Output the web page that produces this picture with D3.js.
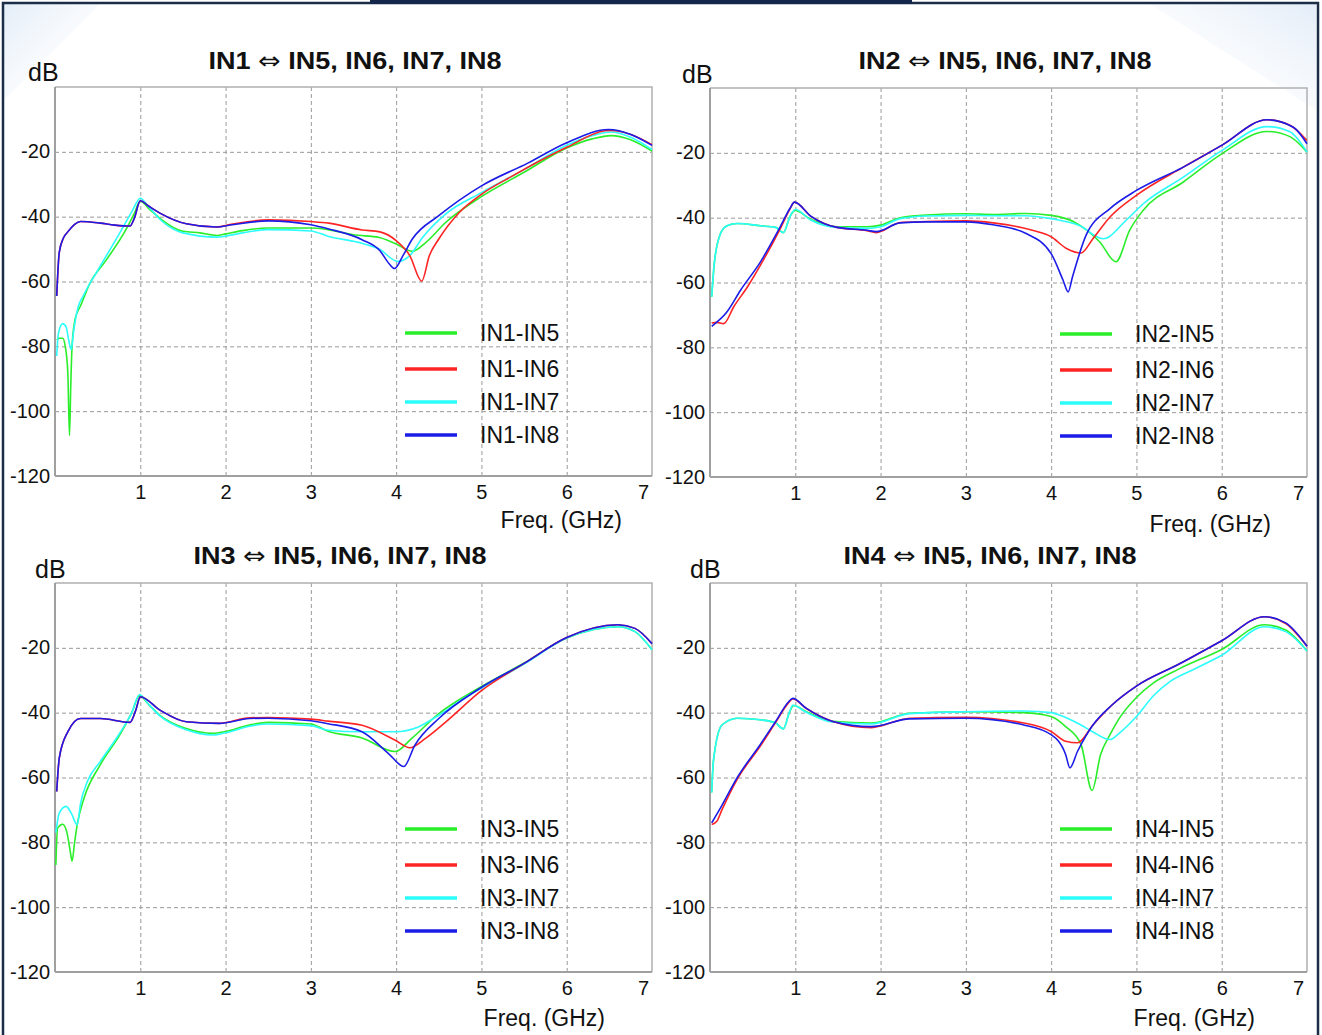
<!DOCTYPE html>
<html>
<head>
<meta charset="utf-8">
<script src="https://cdn.jsdelivr.net/npm/d3@7/dist/d3.min.js"></script>
<style>
  body { margin: 0; background: #fff; }
  svg text { font-family: 'Liberation Sans', Arial, sans-serif; fill: #111; }
</style>
</head>
<body>
<svg id="chart" width="1322" height="1035"></svg>
<script>
'use strict';

// ---- data: [GHz, dB] ----
const xTicks = [1, 2, 3, 4, 5, 6, 7];
const yTicks = [-20, -40, -60, -80, -100, -120];
const targets = ['IN5', 'IN6', 'IN7', 'IN8'];
const colors = ['#2aee2a', '#ff2424', '#2cfcfc', '#1c1ce8'];

const in1_5 = [[0.02,-78],[0.05,-77.5],[0.09,-77.5],[0.12,-80],[0.15,-88],[0.17,-107.5],[0.185,-92],[0.2,-80],[0.237,-71.5],[0.3,-67.5],[0.41,-60.5],[0.6,-53.4],[0.83,-44.1],[0.93,-39],[1.0,-35.2],[1.1,-37.5],[1.23,-40.5],[1.5,-44.5],[1.7,-45],[1.9,-45.8],[2.0,-45.3],[2.2,-44.3],[2.5,-43.5],[3.0,-43.5],[3.2,-44],[3.5,-45.6],[3.8,-46.4],[4.0,-48.4],[4.19,-50.7],[4.35,-47.9],[4.58,-41.8],[5.0,-33.8],[5.5,-26.3],[6.0,-18.8],[6.3,-16],[6.52,-15],[6.75,-16.3],[7.0,-19.8]];
const in1_6 = [[0.02,-64.5],[0.05,-51],[0.1,-46.5],[0.14,-45],[0.3,-41.5],[0.53,-42],[0.7,-42.6],[0.88,-42.9],[0.93,-40.5],[1.0,-35.1],[1.1,-36.8],[1.23,-38.9],[1.54,-42.2],[1.89,-43.2],[2.08,-42.3],[2.5,-41],[3.0,-41.5],[3.21,-42],[3.6,-44.1],[3.81,-44.7],[4.0,-47.4],[4.16,-52],[4.3,-59.9],[4.39,-52],[4.5,-46.9],[4.74,-38.7],[5.0,-33.1],[5.36,-27.5],[6.0,-18.6],[6.45,-13.5],[6.52,-13.4],[6.76,-14.7],[7.0,-17.8]];
const in1_7 = [[0.02,-83],[0.04,-76],[0.09,-73],[0.13,-74],[0.16,-78],[0.19,-81],[0.22,-75],[0.27,-68],[0.33,-64.5],[0.53,-55.3],[0.76,-45],[0.9,-38.5],[1.0,-34.3],[1.1,-37],[1.23,-40.8],[1.5,-45],[1.9,-46.3],[2.0,-46],[2.2,-45],[2.5,-44],[3.0,-44.4],[3.21,-46.1],[3.6,-48.2],[3.8,-50],[4.02,-53.8],[4.16,-52],[4.31,-46.4],[4.58,-39.2],[5.0,-32.6],[5.5,-25.5],[6.0,-18],[6.3,-15],[6.52,-13.9],[6.75,-15.5],[7.0,-19.3]];
const in1_8 = [[0.02,-64.5],[0.05,-51],[0.1,-46.5],[0.14,-45],[0.3,-41.5],[0.53,-42],[0.7,-42.6],[0.88,-42.9],[0.93,-40.5],[1.0,-35.1],[1.1,-36.8],[1.23,-38.9],[1.54,-42.2],[1.89,-43.2],[2.08,-42.5],[2.5,-41.3],[3.0,-42.5],[3.21,-43.8],[3.6,-47.1],[3.81,-50.5],[3.92,-54.6],[3.98,-56],[4.08,-52],[4.19,-46.9],[4.5,-39.7],[5.0,-30.5],[5.55,-23.4],[6.0,-17.2],[6.49,-13.1],[6.76,-14.7],[7.0,-18]];

const in2_5 = [[0.02,-64.4],[0.05,-54.2],[0.12,-45.1],[0.2,-42.5],[0.32,-41.8],[0.59,-42.5],[0.77,-43],[0.86,-44.6],[0.94,-39.5],[1.0,-37.8],[1.18,-40.5],[1.49,-42.8],[1.84,-42.8],[2.0,-42.3],[2.23,-40],[2.54,-39.2],[3.0,-38.8],[3.32,-39],[3.7,-38.7],[4.0,-39.3],[4.29,-41.6],[4.57,-47.5],[4.76,-53.6],[4.92,-43.9],[5.08,-37.7],[5.55,-29],[6.0,-20.3],[6.53,-13.4],[6.8,-15],[7.0,-19.8]];
const in2_6 = [[0.02,-72.5],[0.08,-72.3],[0.16,-72.7],[0.28,-67.4],[0.44,-61.3],[0.59,-54.7],[0.82,-43.6],[0.94,-37.2],[0.99,-35.2],[1.18,-39.5],[1.49,-43],[1.84,-44],[1.95,-44.6],[2.23,-41.5],[2.54,-41.2],[3.0,-41],[3.32,-41.6],[3.78,-43.9],[4.0,-45.9],[4.18,-49.5],[4.35,-50.9],[4.49,-46.5],[4.69,-39.8],[5.0,-33.1],[5.55,-24.4],[6.0,-17.7],[6.53,-9.8],[6.8,-11.5],[7.0,-16.2]];
const in2_7 = [[0.02,-64.4],[0.05,-54.2],[0.12,-45.1],[0.2,-42.5],[0.32,-41.8],[0.59,-42.5],[0.77,-43],[0.86,-44.6],[0.94,-39.5],[1.0,-37.5],[1.18,-40.7],[1.49,-43],[1.84,-43.3],[2.0,-42.8],[2.23,-40.3],[2.54,-39.5],[3.0,-39.3],[3.32,-39.4],[3.7,-39.4],[4.0,-40.3],[4.33,-42.4],[4.61,-46.5],[4.88,-40.8],[5.08,-35.7],[5.55,-27.5],[6.0,-19.3],[6.53,-11.9],[6.8,-13.5],[7.0,-19.8]];
const in2_8 = [[0.02,-73.5],[0.2,-69],[0.36,-62.3],[0.59,-53.7],[0.82,-43],[0.94,-37],[0.99,-35.2],[1.18,-39.5],[1.49,-43],[1.84,-43.9],[1.95,-44.3],[2.23,-41.6],[2.54,-41.3],[3.0,-41.3],[3.32,-42.2],[3.7,-44.8],[4.0,-51.1],[4.14,-59.3],[4.2,-62.9],[4.25,-58.3],[4.41,-45.4],[4.69,-37.2],[5.0,-31.6],[5.55,-24.4],[6.0,-17.7],[6.53,-9.8],[6.84,-12.1],[7.0,-17.2]];

const in3_5 = [[0.01,-87],[0.03,-75.6],[0.09,-74.4],[0.14,-77],[0.18,-83],[0.2,-85.8],[0.23,-80],[0.26,-74.6],[0.34,-66.4],[0.53,-56.1],[0.77,-46.4],[0.9,-40],[0.99,-34.8],[1.1,-37.5],[1.23,-40.8],[1.54,-44.9],[1.85,-46.4],[2.0,-45.8],[2.28,-43.8],[2.5,-43],[3.0,-43.5],[3.2,-45.7],[3.6,-47.8],[3.99,-52],[4.18,-48],[4.5,-40.3],[4.93,-33],[5.5,-24.7],[6.0,-17],[6.6,-13.5],[6.8,-15],[7.0,-20.6]];
const in3_6 = [[0.02,-64.3],[0.05,-54],[0.15,-45.9],[0.3,-41.8],[0.53,-41.8],[0.88,-43],[0.95,-39],[1.0,-35.1],[1.23,-39.2],[1.54,-42.8],[1.93,-43.3],[2.28,-41.6],[2.5,-41.5],[3.0,-42],[3.2,-42.6],[3.6,-43.9],[3.99,-48.5],[4.16,-50.8],[4.34,-48],[4.58,-42.9],[5.0,-33.2],[5.5,-24.8],[6.0,-16.8],[6.6,-12.9],[6.8,-14],[7.0,-18.7]];
const in3_7 = [[0.01,-77],[0.05,-71],[0.13,-68.9],[0.19,-71],[0.26,-74.6],[0.3,-68],[0.38,-61.2],[0.53,-55.1],[0.77,-45.9],[0.9,-40],[0.99,-34.4],[1.1,-37.5],[1.23,-41],[1.54,-45.3],[1.85,-46.9],[2.0,-46.2],[2.28,-44.2],[2.5,-43.5],[3.0,-44],[3.2,-45.4],[3.6,-45.9],[3.99,-45.9],[4.26,-44.4],[4.5,-40.8],[4.85,-34.7],[5.0,-32.5],[5.5,-25],[6.0,-17],[6.6,-13.5],[6.8,-15],[7.0,-20.6]];
const in3_8 = [[0.02,-64.3],[0.05,-54],[0.15,-45.9],[0.3,-41.8],[0.53,-41.8],[0.88,-43],[0.95,-39],[1.0,-35.1],[1.23,-39.2],[1.54,-42.8],[1.93,-43.3],[2.28,-41.8],[2.5,-41.7],[3.0,-42.5],[3.2,-43.4],[3.6,-45.9],[3.91,-52.6],[4.09,-56.6],[4.22,-50],[4.5,-41.8],[4.97,-32.7],[5.5,-24.8],[6.0,-16.8],[6.6,-12.9],[6.8,-14],[7.0,-18.7]];

const in4_5 = [[0.02,-64.6],[0.04,-54.9],[0.14,-43.8],[0.32,-41.7],[0.59,-42.2],[0.77,-43.2],[0.86,-45],[0.93,-40],[0.98,-37.8],[1.13,-39.7],[1.44,-42.7],[1.89,-43.2],[2.34,-40.2],[3.0,-39.7],[3.68,-40],[4.0,-41.2],[4.17,-44.3],[4.35,-49.8],[4.48,-64],[4.58,-52.9],[4.69,-46.8],[4.8,-41.7],[5.0,-35.3],[5.2,-30.8],[5.5,-26.5],[6.0,-20.5],[6.5,-12.9],[6.75,-14.5],[7.0,-21]];
const in4_6 = [[0.02,-74.5],[0.08,-73.5],[0.14,-70],[0.32,-60.5],[0.59,-50.3],[0.77,-43],[0.92,-37],[0.97,-35.8],[1.13,-38.7],[1.44,-42.7],[1.89,-44.6],[2.34,-41.7],[3.0,-41.4],[3.68,-43.2],[4.0,-45.8],[4.17,-48.8],[4.31,-49.3],[4.49,-43.8],[4.71,-37.7],[5.0,-31.8],[5.5,-25],[6.0,-17.8],[6.5,-10.4],[6.75,-12.5],[7.0,-19.5]];
const in4_7 = [[0.02,-64.6],[0.04,-54.9],[0.14,-43.8],[0.32,-41.7],[0.59,-42.2],[0.77,-43.2],[0.86,-45],[0.93,-40],[0.97,-37.7],[1.13,-39.9],[1.44,-42.9],[1.89,-43.5],[2.34,-40.3],[3.0,-39.7],[3.68,-39.5],[4.0,-40],[4.17,-41.5],[4.35,-43.8],[4.48,-45.8],[4.69,-48.3],[4.8,-46.3],[5.0,-41.2],[5.2,-34.8],[5.4,-30.3],[5.7,-26.3],[6.0,-22.3],[6.5,-13.5],[6.75,-15],[7.0,-21]];
const in4_8 = [[0.02,-74],[0.14,-68.6],[0.32,-60],[0.59,-49.8],[0.77,-42.7],[0.92,-36.7],[0.97,-35.6],[1.13,-38.7],[1.44,-42.7],[1.89,-44.3],[2.34,-41.9],[3.0,-41.7],[3.68,-43.8],[4.0,-46.8],[4.17,-52.9],[4.22,-57],[4.31,-51.9],[4.49,-43.8],[4.71,-37.7],[5.0,-31.8],[5.5,-25],[6.0,-17.8],[6.5,-10.4],[6.75,-12.3],[7.0,-19.5]];

// ---- layout ----
const panels = [
  {src: 'IN1', series: [in1_5, in1_6, in1_7, in1_8], box: [55, 87, 652, 476],
   title: [355, 69], db: [28, 81], freq: [622, 528]},
  {src: 'IN2', series: [in2_5, in2_6, in2_7, in2_8], box: [710, 88, 1307, 477],
   title: [1005, 69], db: [682, 83], freq: [1271, 532]},
  {src: 'IN3', series: [in3_5, in3_6, in3_7, in3_8], box: [55, 583, 652, 972],
   title: [340, 564], db: [35, 578], freq: [605, 1026]},
  {src: 'IN4', series: [in4_5, in4_6, in4_7, in4_8], box: [710, 583, 1307, 972],
   title: [990, 564], db: [690, 578], freq: [1255, 1026]}
];
const legendRows = [246, 282, 315, 348];

const svg = d3.select('#chart');

// faint page decoration + frame
const defs = svg.append('defs');
const gl = defs.append('linearGradient').attr('id', 'glow').attr('x1', 0).attr('y1', 0).attr('x2', 1).attr('y2', 1);
gl.append('stop').attr('offset', 0).attr('stop-color', '#dce8f6').attr('stop-opacity', 0.8);
gl.append('stop').attr('offset', 1).attr('stop-color', '#ffffff').attr('stop-opacity', 0);
svg.append('path').attr('d', 'M4,4 L100,4 L4,100 Z').attr('fill', 'url(#glow)');
const gr = defs.append('linearGradient').attr('id', 'glow2').attr('x1', 1).attr('y1', 0).attr('x2', 0).attr('y2', 1);
gr.append('stop').attr('offset', 0).attr('stop-color', '#dce8f6').attr('stop-opacity', 0.8);
gr.append('stop').attr('offset', 1).attr('stop-color', '#ffffff').attr('stop-opacity', 0);
svg.append('path').attr('d', 'M1150,4 L1316,4 L1316,110 Z').attr('fill', 'url(#glow2)');

svg.append('path')
  .attr('d', 'M3,1040 L3,3 L1318,3 L1318,1040')
  .attr('fill', 'none').attr('stroke', '#1b2d47').attr('stroke-width', 2.5);
svg.append('rect').attr('x', 370).attr('y', 0).attr('width', 542).attr('height', 4).attr('fill', '#14264a');

panels.forEach(p => {
  const [x0, y0, x1, y1] = p.box;
  const w = x1 - x0, h = y1 - y0;
  const x = d3.scaleLinear().domain([0, 7]).range([x0, x1]);
  const y = d3.scaleLinear().domain([-120, 0]).range([y1, y0]);
  const g = svg.append('g');

  // dashed grid
  g.append('g').attr('transform', `translate(0,${y1})`)
    .call(d3.axisBottom(x).tickValues(xTicks.slice(0, -1)).tickSize(-h).tickFormat(''))
    .call(s => s.select('.domain').remove())
    .selectAll('line').attr('stroke', '#9a9a9a').attr('stroke-dasharray', '4,3');
  g.append('g').attr('transform', `translate(${x0},0)`)
    .call(d3.axisLeft(y).tickValues(yTicks.slice(0, -1)).tickSize(-w).tickFormat(''))
    .call(s => s.select('.domain').remove())
    .selectAll('line').attr('stroke', '#9a9a9a').attr('stroke-dasharray', '4,3');

  // frame: top & right light, left & bottom heavier
  g.append('path').attr('d', `M${x0},${y0} L${x1},${y0} L${x1},${y1}`)
    .attr('fill', 'none').attr('stroke', '#b0b0b0').attr('stroke-width', 1.5);

  // axes with labels (plain hyphen minus, as in the original)
  const ax = g.append('g').attr('transform', `translate(0,${y1})`)
    .call(d3.axisBottom(x).tickValues(xTicks).tickSize(0).tickPadding(5).tickFormat(d => String(d)));
  ax.selectAll('text').attr('font-size', 20).attr('fill', '#111').attr('dy', '0.9em')
    .attr('dx', d => d === 7 ? -9 : 0);
  const ay = g.append('g').attr('transform', `translate(${x0},0)`)
    .call(d3.axisLeft(y).tickValues(yTicks).tickSize(0).tickPadding(5).tickFormat(d => String(d)));
  ay.selectAll('text').attr('font-size', 20).attr('fill', '#111').attr('dy', '0.3em');
  ax.select('.domain').attr('d', `M${x0},0H${x1}`).attr('stroke', '#a0a0a0').attr('stroke-width', 2);
  ay.select('.domain').attr('d', `M0,${y1}V${y0}`).attr('stroke', '#a0a0a0').attr('stroke-width', 2);

  // curves
  const line = d3.line().x(d => x(d[0])).y(d => y(d[1])).curve(d3.curveMonotoneX);
  [0, 2, 1, 3].forEach(i => {
    g.append('path').datum(p.series[i]).attr('d', line)
      .attr('fill', 'none').attr('stroke', colors[i]).attr('stroke-width', 1.6)
      .attr('stroke-linejoin', 'round');
  });

  // legend
  targets.forEach((t, i) => {
    const ly = y0 + legendRows[i];
    g.append('line').attr('x1', x0 + 350).attr('x2', x0 + 402).attr('y1', ly).attr('y2', ly)
      .attr('stroke', colors[i]).attr('stroke-width', 3.5);
    g.append('text').attr('x', x0 + 425).attr('y', ly).attr('dy', '0.36em')
      .attr('font-size', 23).text(`${p.src}-${t}`);
  });

  // texts
  const tt = g.append('text').attr('x', p.title[0]).attr('y', p.title[1])
    .attr('text-anchor', 'middle').attr('font-size', 24).attr('font-weight', 'bold')
    .attr('textLength', 293).attr('lengthAdjust', 'spacingAndGlyphs');
  tt.append('tspan').text(`${p.src} `);
  tt.append('tspan').attr('font-family', "'DejaVu Sans', sans-serif").attr('font-weight', 'normal').text('⇔');
  tt.append('tspan').text(' IN5, IN6, IN7, IN8');
  g.append('text').attr('x', p.db[0]).attr('y', p.db[1]).attr('font-size', 25).text('dB');
  g.append('text').attr('x', p.freq[0]).attr('y', p.freq[1]).attr('text-anchor', 'end')
    .attr('font-size', 23).text('Freq. (GHz)');
});
</script>
</body>
</html>
